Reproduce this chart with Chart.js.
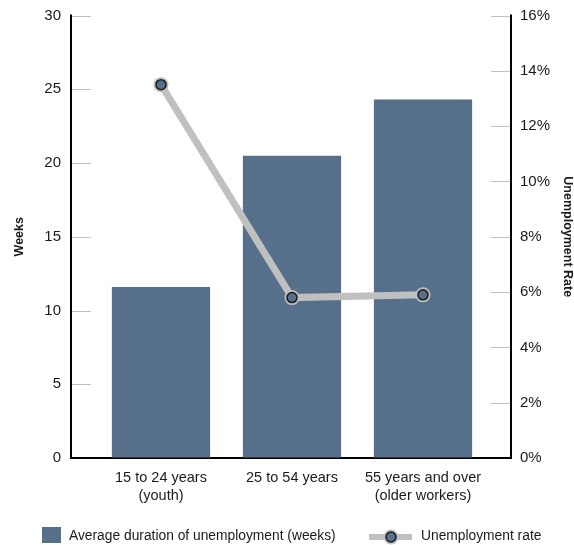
<!DOCTYPE html>
<html>
<head>
<meta charset="utf-8">
<script src="https://cdn.jsdelivr.net/npm/chart.js@4"></script>
<style>
  html, body { margin: 0; padding: 0; background: #fff; }
  #wrap { width: 574px; height: 545px; }
</style>
</head>
<body>
<div id="wrap"><canvas id="chart"></canvas></div>
<script>
// Data
const ageGroups = [['15 to 24 years', '(youth)'], ['25 to 54 years'], ['55 years and over', '(older workers)']];
const durationWeeks = [11.6, 20.5, 24.3];
const unemploymentRate = [13.5, 5.8, 5.9];

const weekTicks = [0, 5, 10, 15, 20, 25, 30];
const rateTicks = [0, 2, 4, 6, 8, 10, 12, 14, 16];

const barLabel = 'Average duration of unemployment (weeks)';
const lineLabel = 'Unemployment rate';

const FONT = "'Liberation Sans', Arial, sans-serif";
const BAR_COLOR = '#566f8a';
const LINE_GRAY = '#c0c0c0';
const TEXT = '#1a1a1a';

Chart.defaults.font.family = FONT;
Chart.defaults.color = TEXT;

// hidden tick marks only reserve room between the axis and its labels
const spacer = len => ({ display: true, drawOnChartArea: false, drawTicks: true, tickLength: len, color: 'rgba(0,0,0,0)' });

// Axis frame: outer axis lines with short inward gray ticks, plus the legend row
const axisFrame = {
  id: 'axisFrame',
  beforeDatasetsDraw(chart) {
    const { ctx, chartArea: a, scales } = chart;
    const xL = a.left - 24.5, xR = a.right + 22.5;
    ctx.save();
    ctx.strokeStyle = LINE_GRAY;
    ctx.lineWidth = 1;
    scales.y.ticks.forEach(t => {
      if (t.value === 0) return;
      const py = Math.round(scales.y.getPixelForValue(t.value)) + 0.5;
      ctx.beginPath(); ctx.moveTo(xL, py); ctx.lineTo(xL + 20, py); ctx.stroke();
    });
    scales.y1.ticks.forEach(t => {
      if (t.value === 0) return;
      const py = Math.round(scales.y1.getPixelForValue(t.value)) + 0.5;
      ctx.beginPath(); ctx.moveTo(xR - 20, py); ctx.lineTo(xR, py); ctx.stroke();
    });
    ctx.strokeStyle = '#000';
    ctx.lineWidth = 2;
    ctx.beginPath();
    ctx.moveTo(xL, a.top - 1);
    ctx.lineTo(xL, a.bottom);
    ctx.lineTo(xR, a.bottom);
    ctx.lineTo(xR, a.top - 1);
    ctx.stroke();
    ctx.restore();
  },
  afterDraw(chart) {
    const { ctx } = chart;
    ctx.save();
    ctx.font = '13.8px ' + FONT;
    ctx.textBaseline = 'middle';
    ctx.fillStyle = BAR_COLOR;
    ctx.fillRect(42, 527, 19, 16);
    ctx.fillStyle = TEXT;
    ctx.fillText(barLabel, 69, 536.5);

    ctx.strokeStyle = LINE_GRAY;
    ctx.lineWidth = 6;
    ctx.beginPath(); ctx.moveTo(369, 537); ctx.lineTo(412, 537); ctx.stroke();
    ctx.fillStyle = LINE_GRAY;
    ctx.beginPath(); ctx.arc(391, 537, 7.5, 0, Math.PI * 2); ctx.fill();
    ctx.fillStyle = BAR_COLOR;
    ctx.strokeStyle = '#1a1a1a';
    ctx.lineWidth = 1.5;
    ctx.beginPath(); ctx.arc(391, 537, 5, 0, Math.PI * 2); ctx.fill(); ctx.stroke();
    ctx.fillStyle = TEXT;
    ctx.fillText(lineLabel, 421, 536.5);
    ctx.restore();
  }
};

const config = {
  data: {
    labels: ageGroups,
    datasets: [
      {
        type: 'line',
        label: lineLabel,
        data: unemploymentRate,
        yAxisID: 'y1',
        borderColor: LINE_GRAY,
        borderWidth: 7,
        pointRadius: 5,
        pointBackgroundColor: BAR_COLOR,
        pointBorderColor: '#1a1a1a',
        pointBorderWidth: 1.5,
        order: 1
      },
      {
        type: 'line',
        label: 'halo',
        data: unemploymentRate,
        yAxisID: 'y1',
        showLine: false,
        pointRadius: 7.5,
        pointBackgroundColor: LINE_GRAY,
        pointBorderWidth: 0,
        order: 2
      },
      {
        type: 'bar',
        label: barLabel,
        data: durationWeeks,
        yAxisID: 'y',
        backgroundColor: BAR_COLOR,
        categoryPercentage: 1,
        barPercentage: 0.75,
        order: 3
      }
    ]
  },
  options: {
    responsive: false,
    animation: false,
    layout: { padding: { top: 15.5, bottom: 37, left: 0, right: 0 } },
    plugins: {
      legend: { display: false },
      tooltip: { enabled: false }
    },
    scales: {
      x: {
        grid: { display: false },
        border: { display: false },
        ticks: { font: { size: 14.5, lineHeight: 1.25 }, padding: 3, maxRotation: 0, autoSkip: false, color: TEXT },
        afterFit(s) { s.height = 50; }
      },
      y: {
        position: 'left',
        min: 0, max: 30,
        afterBuildTicks(s) { s.ticks = weekTicks.map(v => ({ value: v })); },
        grid: spacer(34.5),
        border: { display: false },
        ticks: { font: { size: 15 }, padding: 0, color: TEXT },
        title: { display: true, text: 'Weeks', font: { size: 12.5, weight: 'bold', lineHeight: 1 }, padding: { top: 13.5, bottom: 0 }, color: TEXT },
        afterFit(s) { s.width = 95.5; }
      },
      y1: {
        position: 'right',
        min: 0, max: 16,
        afterBuildTicks(s) { s.ticks = rateTicks.map(v => ({ value: v })); },
        grid: spacer(31.5),
        border: { display: false },
        ticks: { font: { size: 15 }, padding: 0, color: TEXT, callback: v => v + '%' },
        title: { display: true, text: 'Unemployment Rate', font: { size: 12.5, weight: 'bold', lineHeight: 1 }, padding: { top: 0, bottom: 0 }, color: TEXT },
        afterFit(s) { s.width = 85.5; }
      }
    }
  },
  plugins: [axisFrame]
};

const canvas = document.getElementById('chart');
canvas.width = 574;
canvas.height = 545;
new Chart(canvas, config);
</script>
</body>
</html>
